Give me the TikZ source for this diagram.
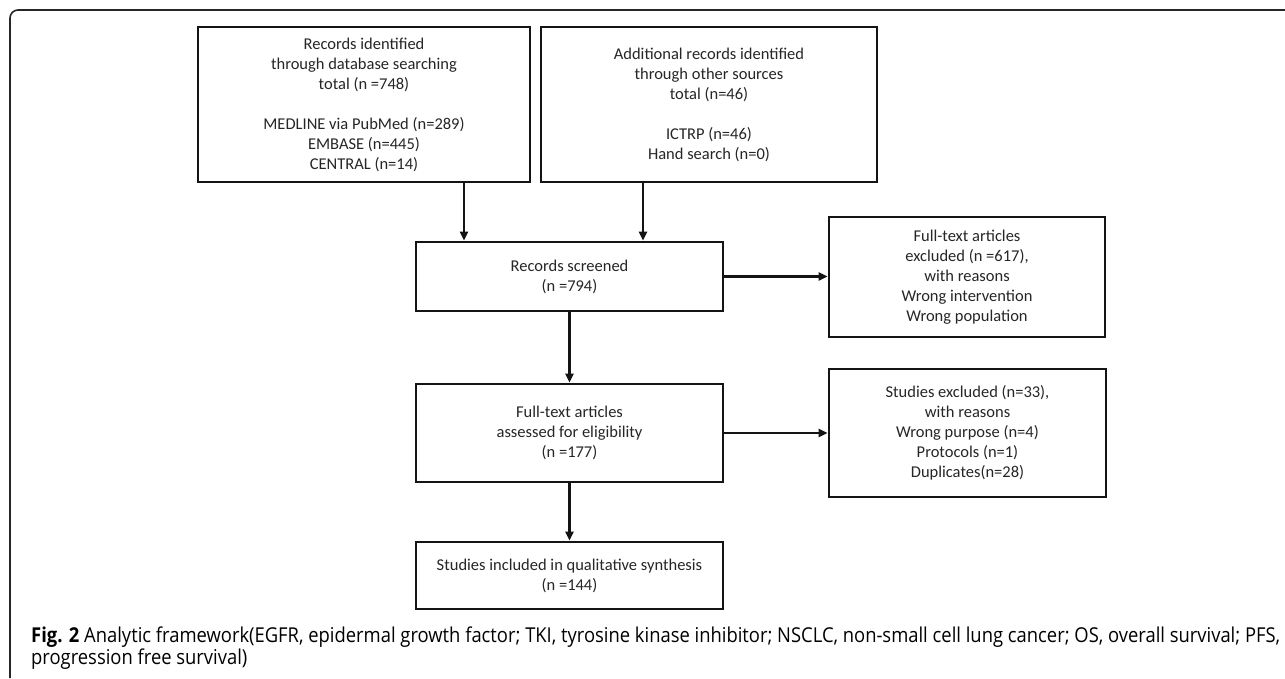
\documentclass[tikz,border=0pt]{standalone}
\usepackage{fontspec}
\setmainfont{Carlito}
\newfontfamily\capfont{Open Sans}
\usetikzlibrary{arrows.meta}
\newsavebox\capA
\newsavebox\capB
\begin{document}
\sbox\capA{\capfont\fontsize{20.5}{22}\selectfont\textbf{Fig. 2} Analytic framework(EGFR, epidermal growth factor; TKI, tyrosine kinase inhibitor; NSCLC, non-small cell lung cancer; OS, overall survival; PFS,}%
\sbox\capB{\capfont\fontsize{20.5}{22}\selectfont progression free survival)}%
\pgfmathsetmacro\capr{1249/\the\wd\capA}%
\begin{tikzpicture}[x=1pt,y=-1pt,
  box/.style={draw=black!92, line width=2.8pt, align=center, inner sep=0pt,
    font=\fontsize{16.5}{20}\selectfont, text=black!85},
  arr/.style={draw=black!92, line width=2.2pt, -{Triangle[length=9pt,width=8pt]}},
  frame/.style={draw=black!85, line width=1.6pt, rounded corners=8pt}]
\useasboundingbox (0,0) rectangle (1285,678);
\fill[white] (0,0) rectangle (1285,678);
\draw[frame] (10,678) -- (10,10) -- (1285,10);

\node[box, minimum width=332pt, minimum height=155pt] (b1) at (364,104.5)
  {Records identified\\ through database searching\\ total (n =748)\\[20pt]
   MEDLINE via PubMed (n=289)\\ EMBASE (n=445)\\ CENTRAL (n=14)};
\node[box, minimum width=336pt, minimum height=155pt] (b2) at (709,104.5)
  {Additional records identified\\ through other sources\\ total (n=46)\\[20pt]
   ICTRP (n=46)\\ Hand search (n=0)};
\node[box, minimum width=307pt, minimum height=69pt] (scr) at (569.5,276.5)
  {Records screened\\ (n =794)};
\node[box, minimum width=276pt, minimum height=120pt] (ex1) at (967,277)
  {Full-text articles\\ excluded (n =617),\\ with reasons\\ Wrong intervention\\ Wrong population};
\node[box, minimum width=307pt, minimum height=98pt] (ass) at (569.5,433)
  {Full-text articles\\ assessed for eligibility\\ (n =177)};
\node[box, minimum width=277pt, minimum height=128pt] (ex2) at (967.5,433)
  {Studies excluded (n=33),\\ with reasons\\ Wrong purpose (n=4)\\ Protocols (n=1)\\ Duplicates(n=28)};
\node[box, minimum width=307pt, minimum height=67pt] (inc) at (569.5,575.5)
  {Studies included in qualitative synthesis\\ (n =144)};

\coordinate (a1x) at (464,0);
\coordinate (a2x) at (643,0);
\draw[arr] (b1.south -| a1x) -- (a1x |- scr.north);
\draw[arr] (b2.south -| a2x) -- (a2x |- scr.north);
\draw[arr] (scr.south) -- (ass.north);
\draw[arr] (ass.south) -- (inc.north);
\draw[arr] (scr.east) -- (scr.east -| ex1.west);
\draw[arr] (ass.east) -- (ass.east -| ex2.west);

\node[anchor=base west, inner sep=0pt, text=black!75] (cap1) at (31,642)
  {\scalebox{\capr}[1]{\usebox\capA}};
\node[anchor=base west, inner sep=0pt, text=black!75] (cap2) at (31,664)
  {\scalebox{\capr}[1]{\usebox\capB}};
\end{tikzpicture}
\end{document}
